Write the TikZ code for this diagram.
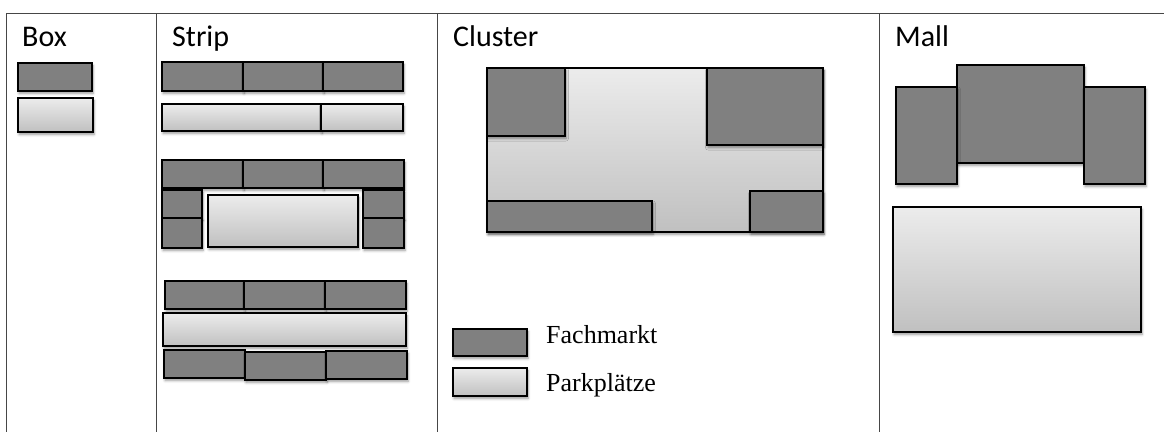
\documentclass[tikz,border=0pt]{standalone}
\usepackage{fontspec}
\setmainfont{Liberation Serif}
\newfontfamily\titlefont{Carlito}
\usetikzlibrary{shadows.blur}
\definecolor{darkfill}{RGB}{128,128,128}
\definecolor{lighttop}{RGB}{236,236,236}
\definecolor{lightbot}{RGB}{192,192,192}
\definecolor{framecol}{RGB}{70,70,70}
\tikzset{
  shd/.style={blur shadow={shadow xshift=1pt,shadow yshift=-2.5pt,shadow blur steps=6,shadow opacity=40,shadow blur radius=2.5pt}},
  darkbox/.style={draw=black,line width=2pt,fill=darkfill,shd},
  lightbox/.style={draw=black,line width=2pt,top color=lighttop,bottom color=lightbot,shd},
  frameline/.style={draw=framecol,line width=1pt},
  title/.style={anchor=base west,inner sep=0pt,font=\titlefont\fontsize{30}{34}\selectfont},
  legendtext/.style={anchor=base west,inner sep=0pt,font=\fontsize{26}{30}\selectfont}
}
\begin{document}
\begin{tikzpicture}[x=1pt,y=-1pt]
\useasboundingbox (0,0) rectangle (1164,432);
% frame
\coordinate (tl) at (6,13);
\coordinate (tr) at (1164,13);
\draw[frameline] (tl) -- (tr);
\draw[frameline] (6,13) -- (6,432);
\draw[frameline] (156,13) -- (156,432);
\draw[frameline] (437,13) -- (437,432);
\draw[frameline] (879,13) -- (879,432);
% titles
\node[title] (tbox) at (22,46) {Box};
\node[title] (tstrip) at (172,46) {Strip};
\node[title] (tcluster) at (453,46) {Cluster};
\node[title] (tmall) at (895,46) {Mall};
% Box
\draw[darkbox] (18,63) rectangle (92,91);
\draw[lightbox] (18,98) rectangle (93,132);
% Strip 1
\draw[darkbox] (162,62) rectangle (243,91);
\draw[darkbox] (243,62) rectangle (323,91);
\draw[darkbox] (323,62) rectangle (403,91);
\draw[lightbox] (162,104) rectangle (321,131);
\draw[lightbox] (321,104) rectangle (403,131);
% Strip 2
\draw[darkbox] (162,160) rectangle (243,188);
\draw[darkbox] (243,160) rectangle (323,188);
\draw[darkbox] (323,160) rectangle (404,188);
\draw[darkbox] (162,190) rectangle (202,218);
\draw[darkbox] (162,218) rectangle (202,248);
\draw[darkbox] (363,190) rectangle (404,218);
\draw[darkbox] (363,218) rectangle (404,248);
\draw[lightbox] (208,195) rectangle (358,247);
% Strip 3
\draw[darkbox] (165,281) rectangle (244,309);
\draw[darkbox] (244,281) rectangle (325,309);
\draw[darkbox] (325,281) rectangle (406,309);
\draw[lightbox] (163,313) rectangle (406,346);
\draw[darkbox] (164,350) rectangle (245,378);
\draw[darkbox] (245,352) rectangle (326,380);
\draw[darkbox] (326,351) rectangle (407,379);
% Cluster
\draw[lightbox] (487,68) rectangle (823,232);
\draw[darkbox] (487,68) rectangle (565,136);
\draw[darkbox] (707,68) rectangle (823,145);
\draw[darkbox] (487,201) rectangle (652,232);
\draw[darkbox] (750,191) rectangle (823,232);
% Legend
\draw[darkbox] (453,329) rectangle (527,356);
\draw[lightbox] (453,368) rectangle (527,396);
\node[legendtext] (lfach) at (546,343) {Fachmarkt};
\node[legendtext] (lpark) at (546,391) {Parkplätze};
% Mall
\draw[darkbox] (957,65) rectangle (1084,163);
\draw[darkbox] (896,87) rectangle (957,184);
\draw[darkbox] (1084,87) rectangle (1145,184);
\draw[lightbox] (893,207) rectangle (1141,332);
\end{tikzpicture}
\end{document}
